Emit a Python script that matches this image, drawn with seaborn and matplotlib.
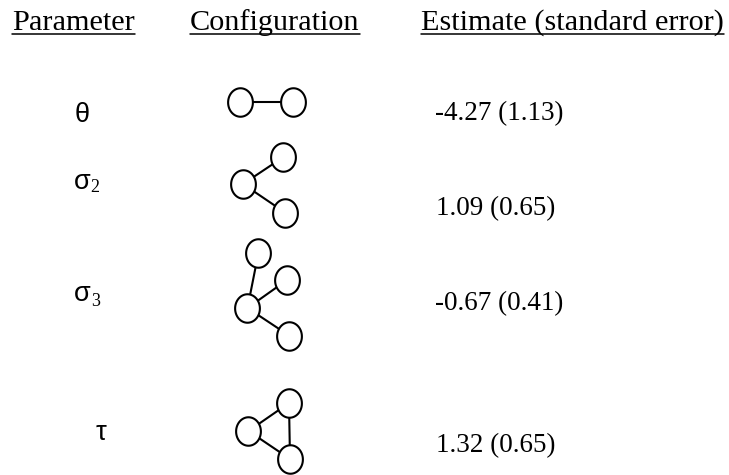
import matplotlib
matplotlib.use("Agg")
import matplotlib.pyplot as plt
import seaborn as sns
import pandas as pd
import numpy as np
from matplotlib.path import Path
from matplotlib.markers import MarkerStyle

# ---- data ----
headers = ["Parameter", "Configuration", "Estimate (standard error)"]
param_symbols = ["θ", "σ", "σ", "τ"]
param_subscripts = ["", "2", "3", ""]
estimates = [-4.27, 1.09, -0.67, 1.32]
std_errors = [1.13, 0.65, 0.41, 0.65]

# configuration topology (node names and edges)
config_edges = [
    [("a", "b")],
    [("c", "t"), ("c", "b")],
    [("c", "u"), ("c", "t"), ("c", "b")],
    [("c", "t"), ("c", "b"), ("t", "b")],
]

# ---- layout (pixels) ----
W, H = 729, 475
node_layouts = [
    {"a": (240, 102), "b": (293, 102)},
    {"c": (243, 184), "t": (283.5, 157), "b": (285, 212.5)},
    {"u": (258.5, 252.5), "t": (287, 280), "c": (247.5, 308), "b": (289, 335.5)},
    {"t": (289, 403), "c": (248.5, 431), "b": (290, 459)},
]
header_x = [12, 190, 421]
header_base = 29.5
underline_y = 33.5
sym_pos = [(74.5, 122), (73.5, 189), (73.5, 301), (96, 440)]
sub_pos = [None, (90.5, 192.5), (91.5, 305.5), None]
est_pos = [(435, 120), (436, 215), (435, 310), (436, 452)]

sns.set_theme(style="white")
plt.rcParams["font.family"] = ["Liberation Serif", "DejaVu Serif"]
plt.rcParams["text.color"] = "black"

fig = plt.figure(figsize=(W / 100, H / 100), dpi=100)
ax = fig.add_axes([0, 0, 1, 1])
ax.set_xlim(0, W)
ax.set_ylim(H, 0)
ax.axis("off")

# edges
seg_rows = []
for ci, (edges, lay) in enumerate(zip(config_edges, node_layouts)):
    for ei, (n1, n2) in enumerate(edges):
        for n in (n1, n2):
            seg_rows.append({"seg": f"{ci}-{ei}", "x": lay[n][0], "y": lay[n][1]})
seg_df = pd.DataFrame(seg_rows)
sns.lineplot(data=seg_df, x="x", y="y", units="seg", estimator=None, sort=False,
             color="black", linewidth=1.5, ax=ax, legend=False, zorder=1)

# nodes (slightly tall ellipses)
t = np.linspace(0, 2 * np.pi, 80)
ell = Path(np.column_stack([0.87 * np.cos(t), np.sin(t)]), closed=True)
node_rows = [{"x": p[0], "y": p[1]} for lay in node_layouts for p in lay.values()]
node_df = pd.DataFrame(node_rows)
sns.scatterplot(data=node_df, x="x", y="y", marker=MarkerStyle(ell), s=20.5 ** 2,
                facecolor="white", edgecolor="black", linewidth=1.5, ax=ax, zorder=3)
ax.set_xlim(0, W)
ax.set_ylim(H, 0)
ax.set_xlabel("")
ax.set_ylabel("")

# headers with underline
fig.canvas.draw()
renderer = fig.canvas.get_renderer()
for hx, txt in zip(header_x, headers):
    tt = ax.text(hx, header_base, txt, fontsize=21.8, ha="left", va="baseline",
                 family=["Liberation Serif"], color="black")
    bb = tt.get_window_extent(renderer=renderer)
    ax.plot([bb.x0, bb.x1], [H - underline_y] * 2, color="black", linewidth=1.1,
            transform=None)

# parameter symbols
for sym, sub, sp, bp in zip(param_symbols, param_subscripts, sym_pos, sub_pos):
    ax.text(sp[0], sp[1], sym, fontsize=19.5, ha="left", va="baseline",
            family=["Liberation Sans", "DejaVu Sans"], color="black")
    if sub:
        ax.text(bp[0], bp[1], sub, fontsize=13, ha="left", va="baseline",
                family=["Liberation Serif"], color="black")

# estimates
for e, se, p in zip(estimates, std_errors, est_pos):
    ax.text(p[0], p[1], f"{e:.2f} ({se:.2f})", fontsize=19.5, ha="left",
            va="baseline", family=["Liberation Serif"], color="black")

fig.savefig("out.png", dpi=100, facecolor="white")
